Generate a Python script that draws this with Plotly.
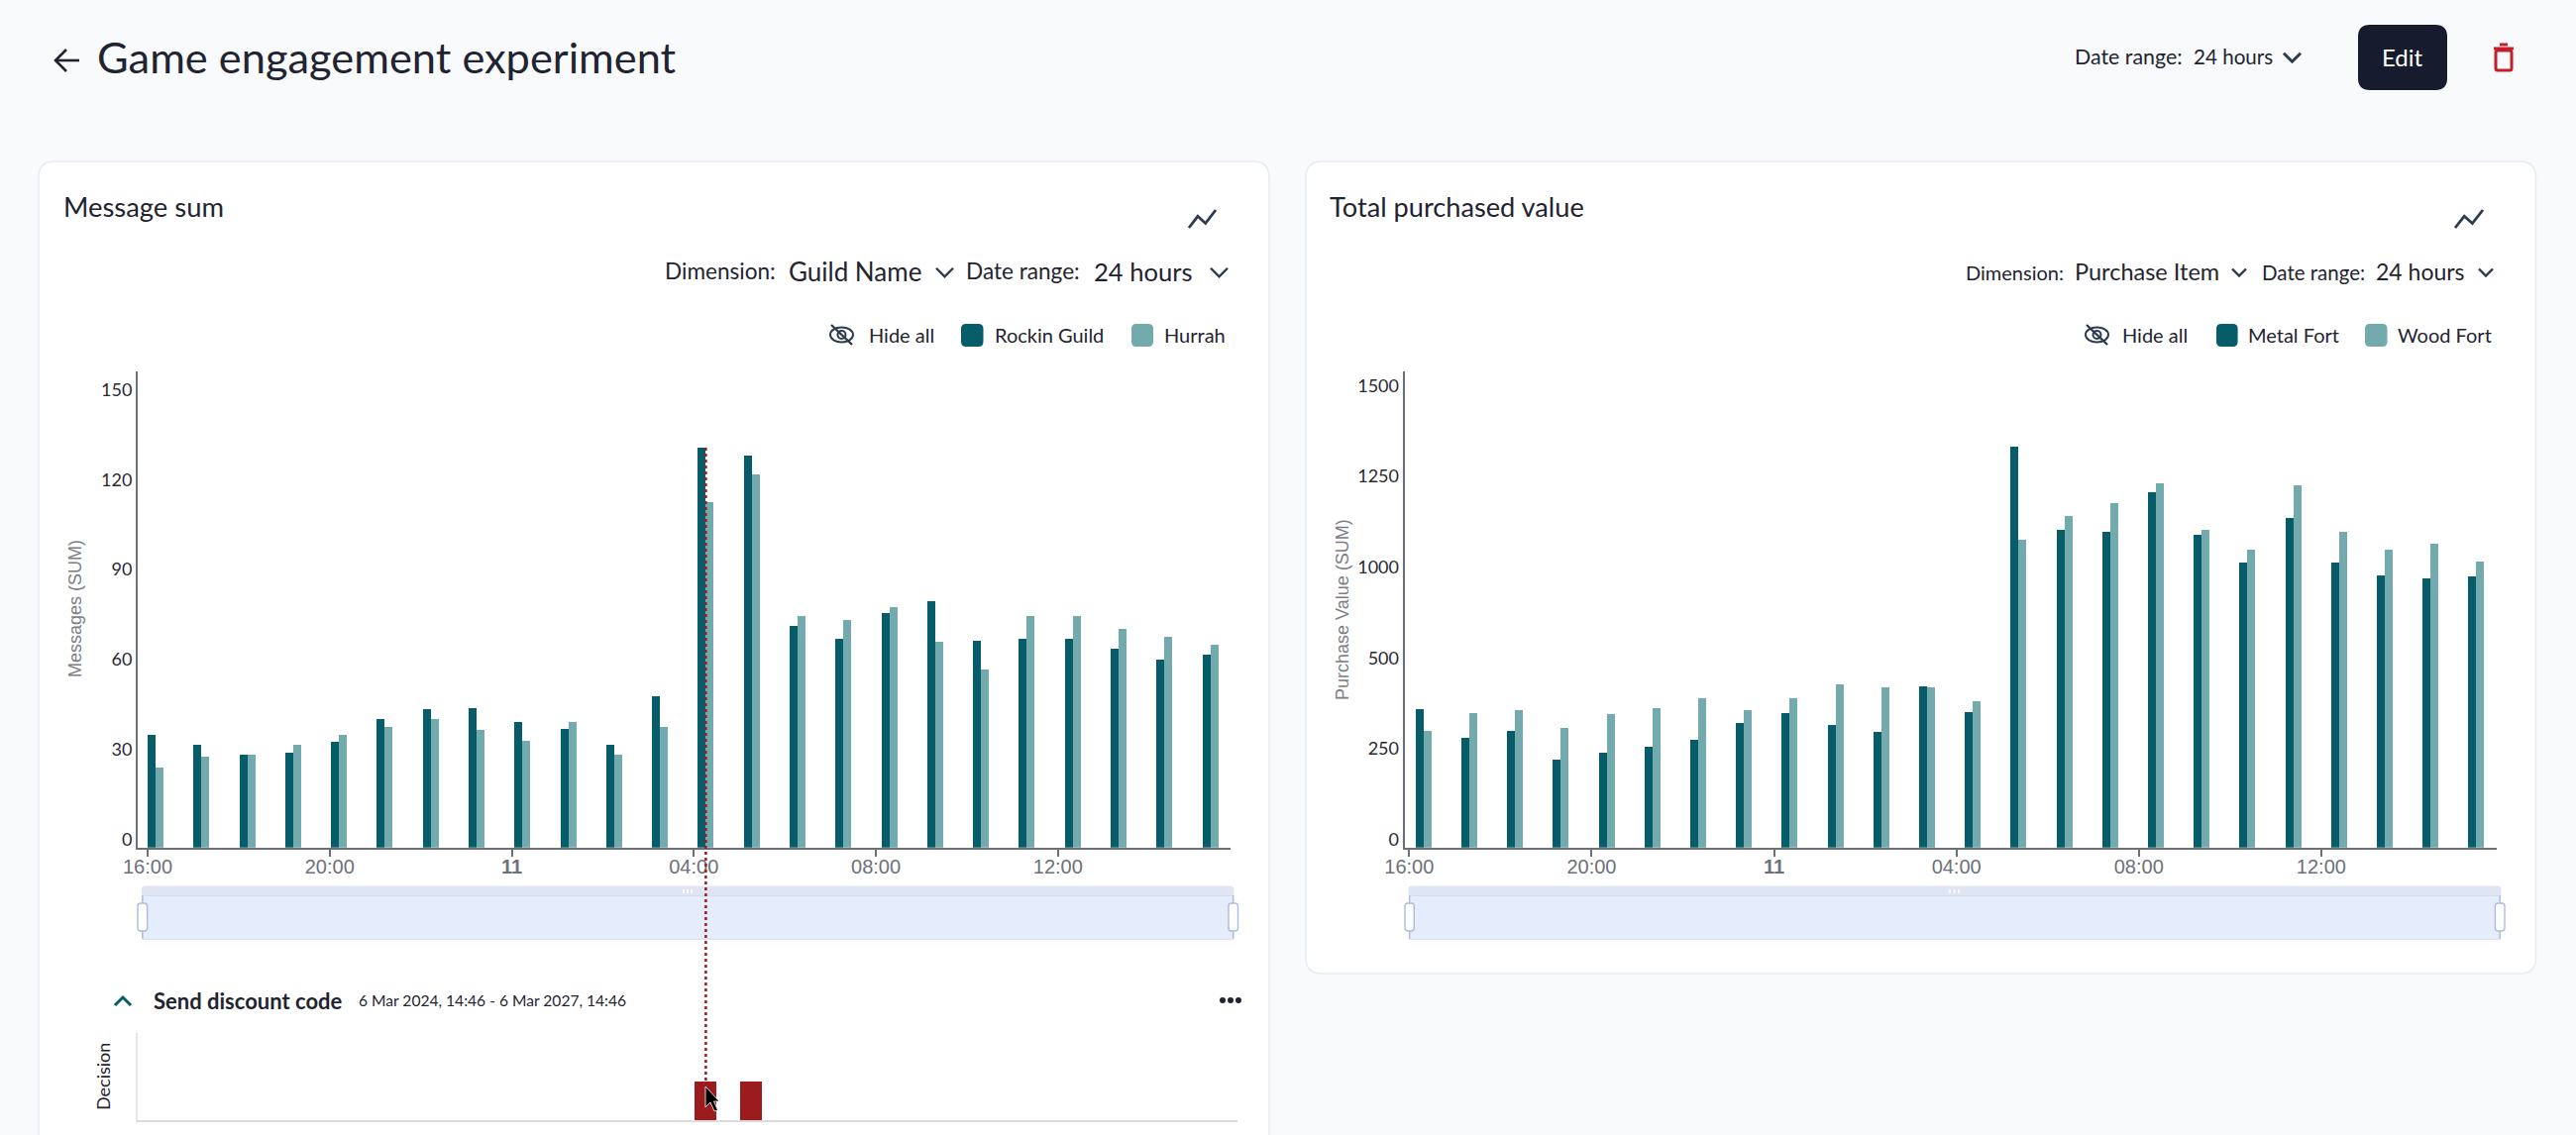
import pandas as pd
import plotly.graph_objects as go
from datetime import datetime, timedelta

W, H = 2600, 1146
UI_FONT = "Lato"
CHART_FONT = "Liberation Sans"

# ---- data ----
tick_times = ["2024-03-10 16:00", "2024-03-10 20:00", "2024-03-11 00:00",
              "2024-03-11 04:00", "2024-03-11 08:00", "2024-03-11 12:00"]
tick_labels = ["16:00", "20:00", "<b>11</b>", "04:00", "08:00", "12:00"]

message_times = pd.date_range("2024-03-10 16:00:00", periods=24, freq="3627s")
rockin_guild = [37.7, 34.2, 31.0, 31.5, 35.1, 42.8, 46.0, 46.5, 41.9, 39.6, 34.2, 50.5,
                133.3, 130.7, 73.8, 69.4, 78.0, 82.1, 68.9, 69.4, 69.4, 66.3, 62.6, 64.4]
hurrah = [26.5, 30.2, 31.0, 34.2, 37.7, 40.1, 42.8, 39.2, 35.6, 41.9, 31.0, 40.1,
          115.1, 124.4, 77.0, 75.7, 80.2, 68.5, 59.4, 77.0, 77.0, 73.0, 70.3, 67.6]
message_ticks = [0, 30, 60, 90, 120, 150]

purchase_times = pd.date_range("2024-03-10 16:08:00", periods=24, freq="3613s")
metal_fort = [381, 303, 322, 241, 262, 277, 296, 344, 370, 337, 317, 445,
              374, 1104, 876, 869, 978, 861, 784, 908, 784, 750, 742, 747]
wood_fort = [322, 370, 378, 329, 367, 385, 410, 378, 410, 448, 440, 440,
             403, 847, 914, 948, 1003, 876, 821, 997, 869, 821, 836, 787]
# the reference axis is evenly spaced but skips 750 in its labels
purchase_tickvals = [0, 250, 500, 750, 1000, 1250]
purchase_ticktext = ["0", "250", "500", "1000", "1250", "1500"]

decision_times = ["2024-03-11 04:15", "2024-03-11 05:15"]
decision_values = [1, 1]

DARK = "#075C6A"
LIGHT = "#73AAAD"
RED = "#9B1B1E"
AXIS = "#6E7079"
INK = "#1F2430"
NAVY = "#2B3A4E"


def fx(x): return x / W
def fy(y): return 1 - y / H


def time_range(x0, x1, origin_px, px_per_hour):
    base = datetime(2024, 3, 10, 16)
    return [(base + timedelta(hours=(p - origin_px) / px_per_hour)).strftime("%Y-%m-%d %H:%M:%S.%f")
            for p in (x0, x1)]


def bar_ms(px, px_per_hour):
    return px / px_per_hour * 3600000


fig = go.Figure()

L_PPH, R_PPH = 45.94, 46.03
for name, xs, ys, color, off, pph, ax in [
    ("Rockin Guild", message_times, rockin_guild, DARK, 0, L_PPH, ""),
    ("Hurrah", message_times, hurrah, LIGHT, 8, L_PPH, ""),
    ("Metal Fort", purchase_times, metal_fort, DARK, 0, R_PPH, "2"),
    ("Wood Fort", purchase_times, wood_fort, LIGHT, 8, R_PPH, "2"),
]:
    fig.add_trace(go.Bar(name=name, x=list(xs), y=ys, marker_color=color, marker_line_width=0,
                         width=bar_ms(8, pph), offset=bar_ms(off, pph),
                         xaxis="x" + ax, yaxis="y" + ax, showlegend=False))

fig.add_trace(go.Bar(name="Decision", x=decision_times, y=decision_values, marker_color=RED,
                     marker_line_width=0, width=bar_ms(21.6, L_PPH), xaxis="x3", yaxis="y3",
                     showlegend=False))

shapes, notes = [], []


def text(x, y, s, size, color=INK, anchor="left", font=UI_FONT, angle=0):
    notes.append(dict(x=fx(x), y=fy(y), xref="paper", yref="paper", text=s, showarrow=False,
                      xanchor=anchor, yanchor="middle", textangle=angle,
                      font=dict(family=font, size=size, color=color)))


def rrect(x0, y0, x1, y1, r, fill, line=None, lw=1, layer="above"):
    a, b, c, d = fx(x0), fy(y0), fx(x1), fy(y1)
    rx, ry = r / W, r / H
    p = (f"M{a+rx},{b} L{c-rx},{b} Q{c},{b} {c},{b-ry} L{c},{d+ry} Q{c},{d} {c-rx},{d} "
         f"L{a+rx},{d} Q{a},{d} {a},{d+ry} L{a},{b-ry} Q{a},{b} {a+rx},{b} Z")
    shapes.append(dict(type="path", path=p, xref="paper", yref="paper", fillcolor=fill, layer=layer,
                       line=dict(color=line or fill, width=lw if line else 0)))


def poly(points, color, lw=2, fill=None, close=False):
    p = "M" + " L".join(f"{fx(x)},{fy(y)}" for x, y in points) + (" Z" if close else "")
    shapes.append(dict(type="path", path=p, xref="paper", yref="paper",
                       fillcolor=fill or "rgba(0,0,0,0)", line=dict(color=color, width=lw)))


def chevron(x0, x1, y, color=NAVY, up=False, lw=2.4):
    h = (x1 - x0) * 0.5
    s = -1 if up else 1
    poly([(x0, y - s * h / 2), ((x0 + x1) / 2, y + s * h / 2), (x1, y - s * h / 2)], color, lw)


def trend(x0, x1, y0, y1):
    w, h = x1 - x0, y1 - y0
    poly([(x0, y1), (x0 + .33 * w, y0 + .35 * h), (x0 + .62 * w, y0 + .75 * h), (x1, y0)], NAVY, 2.8)


def eye_off(x0, x1, y):
    cx, w = (x0 + x1) / 2, x1 - x0
    shapes.append(dict(type="circle", xref="paper", yref="paper", x0=fx(cx - w * .46), x1=fx(cx + w * .46),
                       y0=fy(y + w * .3), y1=fy(y - w * .3), line=dict(color=NAVY, width=2)))
    shapes.append(dict(type="circle", xref="paper", yref="paper", x0=fx(cx - 4), x1=fx(cx + 4),
                       y0=fy(y + 4), y1=fy(y - 4), line=dict(color=NAVY, width=2)))
    poly([(x0 + 2, y - 10), (x1 - 2, y + 10)], NAVY, 2.4)


def slider(x0, x1, lh0, lh1, rh0, rh1, gx0, gx1):
    rrect(x0, 894.5, x1, 906, 4, "#DFE5F3")
    shapes.append(dict(type="rect", xref="paper", yref="paper", x0=fx(x0 + 1), x1=fx(x1 - 1),
                       y0=fy(904.5), y1=fy(948.3), fillcolor="#E5ECFB",
                       line=dict(color="#D5DEF0", width=1)))
    for gx in (gx0, (gx0 + gx1) / 2, gx1):
        poly([(gx, 898), (gx, 902)], "#FFFFFF", 1.4)
    for a, b in ((lh0, lh1), (rh0, rh1)):
        poly([((a + b) / 2, 904), ((a + b) / 2, 948)], "#AEBBDD", 1.4)
        rrect(a, 912, b, 940, 3, "#FFFFFF", "#AEBBDD", 1.4)


# ---- page furniture ----
rrect(39, 163, 1281, 1175, 16, "#FFFFFF", "#E8ECF2", 1.5, layer="below")
rrect(1318, 163, 2559.5, 983, 16, "#FFFFFF", "#E8ECF2", 1.5, layer="below")

poly([(80, 61), (56, 61)], INK, 2.6)
poly([(67, 50), (56, 61), (67, 72)], INK, 2.6)
text(96, 57, "Game engagement experiment", 43.4)

text(2092, 57, "Date range:", 21.4)
text(2212, 57, "24 hours", 20.6)
chevron(2305, 2322, 58, lw=3)
rrect(2380, 25, 2470, 91, 12, "#161C2E")
text(2425, 58, "Edit", 24, "#FFFFFF", "center")
poly([(2517, 49), (2537, 49)], "#C41E2A", 3)
poly([(2523, 45), (2531, 45)], "#C41E2A", 3)
rrect(2519, 51, 2535, 71, 2, "rgba(0,0,0,0)", "#C41E2A", 3)

# left card header
text(61.5, 208, "Message sum", 27.4)
trend(1200, 1227, 212, 230)
text(669, 274, "Dimension:", 22.6)
text(794, 274, "Guild Name", 26)
chevron(945, 962, 275)
text(973, 274, "Date range:", 22.6)
text(1102, 274, "24 hours", 25.6)
chevron(1222, 1239, 275)
eye_off(837, 862, 338)
text(875, 338, "Hide all", 20)
rrect(970, 327, 992.5, 350, 5, DARK)
text(1002, 338, "Rockin Guild", 20)
rrect(1142, 327, 1164, 350, 5, LIGHT)
text(1173, 338, "Hurrah", 20)

# right card header
text(1340, 208, "Total purchased value", 27.2)
trend(2478, 2506, 212, 230)
text(1982, 275, "Dimension:", 20)
text(2092, 274, "Purchase Item", 23.5)
chevron(2253, 2267, 275)
text(2281, 275, "Date range:", 20.5)
text(2396, 274, "24 hours", 23)
chevron(2502, 2516, 275)
eye_off(2104, 2129, 338)
text(2140, 338, "Hide all", 20)
rrect(2237, 327, 2258.6, 350, 5, DARK)
text(2267, 338, "Metal Fort", 20)
rrect(2387, 327, 2409.5, 350, 5, LIGHT)
text(2418, 338, "Wood Fort", 20)

slider(143, 1245.4, 139, 148.6, 1240, 1249.5, 690, 698)
slider(1421.4, 2524.5, 1418, 1427.3, 2518.4, 2528, 1968, 1977)

# decision panel header
chevron(116, 132, 1011, DARK, up=True, lw=3)
text(153, 1010, "<b>Send discount code</b>", 22)
text(360, 1010, "6 Mar 2024, 14:46 - 6 Mar 2027, 14:46", 15.6)
for dx in (1234, 1242, 1250):
    shapes.append(dict(type="circle", xref="paper", yref="paper", x0=fx(dx - 3), x1=fx(dx + 3),
                       y0=fy(1013), y1=fy(1007), fillcolor=INK, line=dict(width=0)))
text(104, 1087, "Decision", 18, INK, "center", angle=-90)

# y axis titles
text(76, 615, "Messages (SUM)", 18, "#7D7D86", "center", CHART_FONT, -90)
text(1355, 616, "Purchase Value (SUM)", 18, "#7D7D86", "center", CHART_FONT, -90)

# hover crosshair and cursor
shapes.append(dict(type="line", xref="paper", yref="paper", x0=fx(712.4), x1=fx(712.4), y0=fy(452), y1=fy(1092),
                   line=dict(color="#A01B22", width=2.5, dash="dot")))
poly([(712, 1097), (712, 1118), (717, 1113), (721, 1122), (724.5, 1121), (720.5, 1112), (726, 1112)],
     "#FFFFFF", 0.8, fill="#000000", close=True)

axis_common = dict(showgrid=False, zeroline=False, showline=True, linecolor=AXIS, linewidth=2,
                   layer="above traces", automargin=False)


def xaxis(dom, rng, anchor):
    return dict(domain=dom, range=rng, type="date", tickmode="array", tickvals=tick_times, ticktext=tick_labels,
                anchor=anchor, ticks="outside", ticklen=7, tickwidth=1.5, tickcolor=AXIS,
                ticklabelstandoff=-7,
                tickfont=dict(family=CHART_FONT, size=20, color=AXIS), **axis_common)


def yaxis(dom, rng, vals, labels, anchor):
    return dict(domain=dom, range=rng, tickmode="array", tickvals=vals, ticktext=labels, anchor=anchor,
                ticks="", ticklabelposition="outside", ticklabelshift=-8, ticklabelstandoff=0,
                tickfont=dict(family=UI_FONT, size=18, color="#2A2A33"), **axis_common)


y_dom = [fy(855.7), fy(375)]
fig.update_layout(
    width=W, height=H, autosize=False,
    margin=dict(l=0, r=0, t=0, b=0),
    paper_bgcolor="#F9FAFC", plot_bgcolor="rgba(0,0,0,0)",
    barmode="overlay", bargap=0,
    xaxis=xaxis([fx(139), fx(1241.7)], time_range(139, 1241.7, 149, L_PPH), "y"),
    yaxis=yaxis(y_dom, [0, 158.7], message_ticks, [str(v) for v in message_ticks], "x"),
    xaxis2=xaxis([fx(1417.6), fx(2520.4)], time_range(1417.6, 2520.4, 1422.3, R_PPH), "y2"),
    yaxis2=yaxis(y_dom, [0, 1311], purchase_tickvals, purchase_ticktext, "x2"),
    xaxis3=dict(domain=[fx(138.8), fx(1249.4)], range=time_range(138.8, 1249.4, 149, L_PPH), type="date",
                anchor="y3", showgrid=False, zeroline=False, showline=True, linecolor="#DCDCDC", linewidth=2,
                showticklabels=False, ticks="", automargin=False),
    yaxis3=dict(domain=[fy(1131), fy(1043)], range=[0, 2.27], anchor="x3", showgrid=False, zeroline=False,
                showline=True, linecolor="#E6E6E6", linewidth=1.5, showticklabels=False, ticks="", automargin=False),
    shapes=shapes, annotations=notes,
)
fig.update_traces(hoverinfo="skip")

fig.write_html("out.html", config=dict(displayModeBar=False),
               post_script="document.body.style.margin='0';document.body.style.background='#F9FAFC';document.body.style.overflow='hidden';")
